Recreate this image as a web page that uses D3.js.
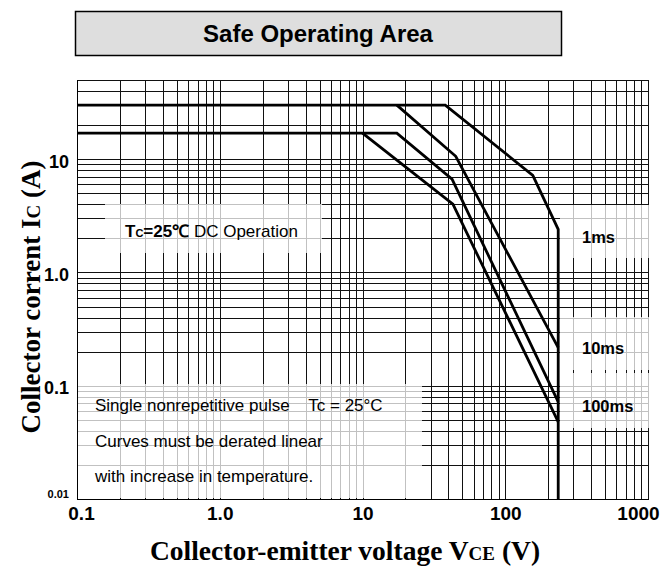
<!DOCTYPE html>
<html>
<head>
<meta charset="utf-8">
<script src="https://cdn.jsdelivr.net/npm/d3@7"></script>
<style>
  html, body { margin: 0; padding: 0; background: #fff; }
  svg { display: block; }
</style>
</head>
<body>
<svg id="chart" width="669" height="572"></svg>
<script>
// ---------------- DATA ----------------
const title = "Safe Operating Area";
const xTickValues = [0.1, 1, 10, 100, 1000];
const xTickLabels = ["0.1", "1.0", "10", "100", "1000"];
const yTickValues = [0.01, 0.1, 1, 10];
const yTickLabels = ["0.01", "0.1", "1.0", "10"];

// Curves: collector-emitter voltage (V) and collector current (A)
const curveNames = ["1ms", "10ms", "100ms", "DC"];
const v1ms   = [0.1, 38, 156, 235, 235];
const i1ms   = [30, 30, 7.2, 2.4, 0.01];
const v10ms  = [17.4, 45, 235];
const i10ms  = [30, 10.6, 0.217];
const v100ms = [0.1, 17.4, 42.4, 235];
const i100ms = [17, 17, 6.65, 0.072];
const vDC    = [10, 43, 235];
const iDC    = [17, 4.0, 0.048];

const pulseLabels = ["1ms", "10ms", "100ms"];
const noteLines = ["Single nonrepetitive pulse    Tc = 25°C",
                   "Curves must be derated linear",
                   "with increase in temperature."];

// ---------------- LAYOUT ----------------
const svg = d3.select("#chart");
const plot = { left: 77, right: 648, top: 80, bottom: 499 };

const x = d3.scaleLog().domain([0.1, 1000]).range([plot.left, plot.right]);
const y = d3.scaleLog().domain([0.01, 50]).range([plot.bottom, plot.top]);

// Title box
svg.append("rect")
  .attr("x", 75.5).attr("y", 11.5).attr("width", 486).attr("height", 44)
  .attr("fill", "#dedede").attr("stroke", "#000").attr("stroke-width", 1.5);
svg.append("text")
  .attr("x", 318).attr("y", 42)
  .attr("text-anchor", "middle")
  .attr("font-family", "'Liberation Sans', Arial, sans-serif")
  .attr("font-weight", "bold").attr("font-size", 24)
  .text(title);

// Grid lines (1..9 per decade)
function logGrid(lo, hi) {
  const vals = [];
  for (let e = Math.round(Math.log10(lo)); Math.pow(10, e) <= hi * 1.0001; e++) {
    for (let m = 1; m <= 9; m++) {
      const v = m * Math.pow(10, e);
      if (v >= lo * 0.9999 && v <= hi * 1.0001) vals.push(v);
    }
  }
  return vals;
}
const gridX = logGrid(0.1, 1000);
const gridY = logGrid(0.01, 50);

const grid = svg.append("g").attr("shape-rendering", "crispEdges");
grid.selectAll("line.vx").data(gridX).enter().append("line")
  .attr("x1", d => Math.round(x(d)) + 0.5).attr("x2", d => Math.round(x(d)) + 0.5)
  .attr("y1", plot.top).attr("y2", plot.bottom)
  .attr("stroke", "#111").attr("stroke-width", 1);
grid.selectAll("line.hy").data(gridY).enter().append("line")
  .attr("y1", d => Math.round(y(d)) + 0.5).attr("y2", d => Math.round(y(d)) + 0.5)
  .attr("x1", plot.left).attr("x2", plot.right)
  .attr("stroke", "#111").attr("stroke-width", 1);
// frame (left axis, bottom)
grid.append("line").attr("x1", plot.left + 0.5).attr("x2", plot.left + 0.5)
  .attr("y1", plot.top).attr("y2", plot.bottom + 1).attr("stroke", "#000").attr("stroke-width", 1.5);
grid.append("line").attr("x1", plot.left).attr("x2", plot.right + 1)
  .attr("y1", plot.bottom + 0.5).attr("y2", plot.bottom + 0.5).attr("stroke", "#000").attr("stroke-width", 1.5);

// Semi-transparent annotation boxes (grid shows lighter underneath)
const boxes = [
  { x0: 105, x1: 322, y0: 204, y1: 253 },
  { x0: 78,  x1: 422, y0: 384, y1: 498 },
  { x0: 560, x1: 652, y0: 205, y1: 258 },
  { x0: 560, x1: 652, y0: 317, y1: 370 },
  { x0: 560, x1: 652, y0: 373, y1: 428 }
];
svg.append("g").selectAll("rect").data(boxes).enter().append("rect")
  .attr("x", d => d.x0).attr("y", d => d.y0)
  .attr("width", d => d.x1 - d.x0).attr("height", d => d.y1 - d.y0)
  .attr("fill", "#fff").attr("fill-opacity", 0.74);

// Curves
const curves = [
  { v: v1ms, i: i1ms }, { v: v10ms, i: i10ms },
  { v: v100ms, i: i100ms }, { v: vDC, i: iDC }
];
const line = d3.line().x(d => x(d[0])).y(d => y(d[1]));
svg.append("g").selectAll("path").data(curves).enter().append("path")
  .attr("d", c => line(c.v.map((vv, k) => [vv, c.i[k]])))
  .attr("fill", "none").attr("stroke", "#000")
  .attr("stroke-width", 2.8).attr("stroke-linejoin", "miter");

// Axes
const sans = "'Liberation Sans', Arial, sans-serif";
const yAxis = svg.append("g").attr("transform", `translate(${plot.left},0)`)
  .call(d3.axisLeft(y).tickValues(yTickValues)
    .tickFormat((d, k) => yTickLabels[k]).tickSize(0).tickPadding(8));
yAxis.select(".domain").remove();
yAxis.selectAll("text")
  .attr("font-family", sans).attr("font-weight", "bold")
  .attr("font-size", (d, k) => k === 0 ? 11 : 18)
  .attr("fill", "#000")
  .attr("dy", (d, k) => k === 0 ? "-0.1em" : "0.45em");

const xAxis = svg.append("g").attr("transform", `translate(0,${plot.bottom})`)
  .call(d3.axisBottom(x).tickValues(xTickValues)
    .tickFormat((d, k) => xTickLabels[k]).tickSize(0).tickPadding(8));
xAxis.select(".domain").remove();
xAxis.selectAll("text")
  .attr("font-family", sans).attr("font-weight", "bold")
  .attr("font-size", 19).attr("fill", "#000")
  .attr("dx", (d, k) => k === 0 ? 4 : (k === xTickValues.length - 1 ? -10 : 0));

// Axis titles
const serif = "'Liberation Serif', 'Times New Roman', serif";
const yt = svg.append("text")
  .attr("transform", "translate(40,297) rotate(-90)")
  .attr("text-anchor", "middle")
  .attr("font-family", serif).attr("font-weight", "bold").attr("font-size", 27);
yt.append("tspan").text("Collector corrent I");
yt.append("tspan").attr("font-size", 19).text("C");
yt.append("tspan").text(" (A)");

const xt = svg.append("text")
  .attr("x", 345).attr("y", 560)
  .attr("text-anchor", "middle")
  .attr("font-family", serif).attr("font-weight", "bold").attr("font-size", 27.5);
xt.append("tspan").text("Collector-emitter voltage V");
xt.append("tspan").attr("font-size", 19).text("CE");
xt.append("tspan").text(" (V)");

// DC annotation
const dc = svg.append("text").attr("x", 125).attr("y", 237)
  .attr("font-family", sans).attr("font-size", 17);
dc.append("tspan").attr("font-weight", "bold").text("T");
dc.append("tspan").attr("font-weight", "bold").attr("font-size", 11).text("C");
dc.append("tspan").attr("font-weight", "bold").text("=25℃");
dc.append("tspan").text(" DC Operation");

// Notes
svg.append("g").selectAll("text").data(noteLines).enter().append("text")
  .attr("x", 95).attr("y", (d, k) => 411 + k * 35.5)
  .attr("font-family", sans).attr("font-size", 17)
  .attr("xml:space", "preserve").style("white-space", "pre")
  .text(d => d);

// Pulse labels
const pulseY = [243, 354, 412];
svg.append("g").selectAll("text").data(pulseLabels).enter().append("text")
  .attr("x", 582).attr("y", (d, k) => pulseY[k])
  .attr("font-family", sans).attr("font-weight", "bold").attr("font-size", 16.5)
  .text(d => d);
</script>
</body>
</html>
